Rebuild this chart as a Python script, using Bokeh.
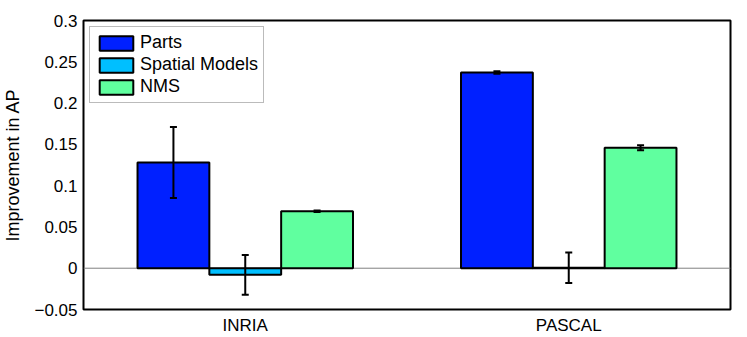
from bokeh.plotting import figure
from bokeh.models import (ColumnDataSource, Range1d, FixedTicker, Whisker, TeeHead,
                          Span, Legend, LegendItem)
from bokeh.embed import file_html
from bokeh.resources import INLINE

categories = ["INRIA", "PASCAL"]
series = ["Parts", "Spatial Models", "NMS"]
parts = [0.128, 0.237]
parts_err = [0.043, 0.0015]
spatial = [-0.008, 0.0005]
spatial_err = [0.024, 0.0185]
nms = [0.069, 0.146]
nms_err = [0.001, 0.003]
colors = ["#0020ff", "#00bfff", "#60ff9f"]
yticks = [-0.05, 0, 0.05, 0.1, 0.15, 0.2, 0.25, 0.3]
ytick_labels = ["\u22120.05", "0", "0.05", "0.1", "0.15", "0.2", "0.25", "0.3"]

FONT = "Liberation Sans"
FS = "17px"

p = figure(width=747, height=337, output_backend="svg", toolbar_location=None,
           x_range=Range1d(0.5, 2.5), y_range=Range1d(-0.05, 0.3),
           min_border_left=83, min_border_right=17, min_border_top=20,
           min_border_bottom=28)
p.grid.visible = False
p.outline_line_color = "black"
p.outline_line_width = 2
p.background_fill_color = "white"
p.border_fill_color = "white"

p.add_layout(Span(location=0, dimension="width", line_color="#808080",
                  line_width=1, level="underlay"))

width = 0.222
offsets = [-width, 0.0, width]
vals = [parts, spatial, nms]
errs = [parts_err, spatial_err, nms_err]
items = []
for name, v, e, off, c in zip(series, vals, errs, offsets, colors):
    xs = [i + 1 + off for i in range(len(categories))]
    src = ColumnDataSource(dict(x=xs, top=v,
                                lo=[a - b for a, b in zip(v, e)],
                                hi=[a + b for a, b in zip(v, e)]))
    r = p.vbar(x="x", top="top", bottom=0, width=width, source=src,
               fill_color=c, line_color="black", line_width=2)
    items.append(LegendItem(label=name, renderers=[r]))
    w = Whisker(base="x", lower="lo", upper="hi", source=src, level="annotation",
                line_color="black", line_width=2,
                upper_head=TeeHead(size=7, line_width=2, line_color="black"),
                lower_head=TeeHead(size=7, line_width=2, line_color="black"))
    p.add_layout(w)

legend = Legend(items=items, location="top_left", margin=6,
                glyph_width=42, glyph_height=18, label_standoff=3,
                padding=5, spacing=1,
                label_text_font=FONT, label_text_font_size="18px",
                label_text_color="black",
                border_line_color="#777777", border_line_width=1,
                background_fill_color="white", background_fill_alpha=1)
p.add_layout(legend)

p.xaxis.ticker = FixedTicker(ticks=[1, 2])
p.xaxis.major_label_overrides = {1: "INRIA", 2: "PASCAL"}
p.yaxis.ticker = FixedTicker(ticks=yticks)
p.yaxis.major_label_overrides = {t: l for t, l in zip(yticks, ytick_labels)}
for ax in (p.xaxis, p.yaxis):
    ax.axis_line_color = None
    ax.major_tick_line_color = None
    ax.minor_tick_line_color = None
    ax.major_tick_out = 0
    ax.major_tick_in = 0
    ax.major_label_text_font = FONT
    ax.major_label_text_font_size = FS
    ax.major_label_text_color = "black"
p.xaxis.major_label_standoff = 6
p.yaxis.major_label_standoff = 6
p.yaxis.axis_label = "Improvement in AP"
p.yaxis.axis_label_text_font = FONT
p.yaxis.axis_label_text_font_size = "18px"
p.yaxis.axis_label_text_font_style = "normal"
p.yaxis.axis_label_text_color = "black"
p.yaxis.axis_label_standoff = 8

open("out.html", "w").write(file_html(p, INLINE))
